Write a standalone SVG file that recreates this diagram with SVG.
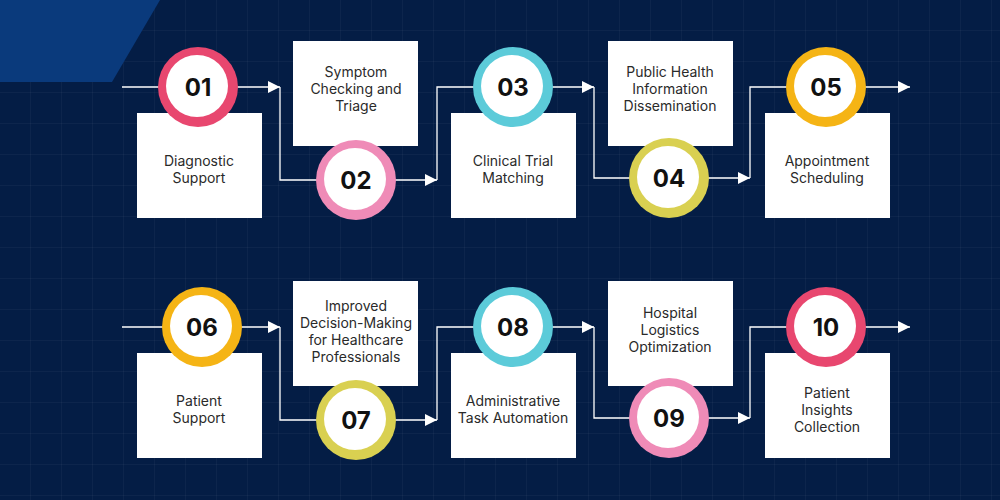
<svg xmlns="http://www.w3.org/2000/svg" width="1000" height="500" viewBox="0 0 1000 500">
<style>
.box{fill:#fff}
.t{font-family:Inter,"Liberation Sans",sans-serif;font-size:14px;fill:#2a2a2a;text-anchor:middle}
.n{font-family:Inter,"Liberation Sans",sans-serif;font-size:24px;font-weight:700;fill:#111;text-anchor:middle}
.ln{fill:none;stroke:#fff;stroke-width:1.3}
.in{fill:#fff}
</style>
<defs>
<pattern id="g" width="31" height="31" patternUnits="userSpaceOnUse"><path d="M31 0V31H0" fill="none" stroke="#ffffff" stroke-opacity="0.07"/></pattern>
<marker id="a" viewBox="0 0 10 10" refX="10" refY="5" markerWidth="16" markerHeight="12" markerUnits="userSpaceOnUse" orient="auto"><path d="M0 0L10 5L0 10Z" fill="#fff"/></marker>
</defs>
<rect width="1000" height="500" fill="#041d45"/>
<rect width="1000" height="500" fill="url(#g)"/>
<path d="M0 0H160L112 82H0Z" fill="#0a3a7c"/>
<g id="connectors">
<path class="ln" d="M122 87H280" marker-end="url(#a)"/>
<path class="ln" d="M280 87V180H437" marker-end="url(#a)"/>
<path class="ln" d="M437 180V87H594" marker-end="url(#a)"/>
<path class="ln" d="M594 87V178H750" marker-end="url(#a)"/>
<path class="ln" d="M750 178V87H910" marker-end="url(#a)"/>
<path class="ln" d="M122 327H280" marker-end="url(#a)"/>
<path class="ln" d="M280 327V420H437" marker-end="url(#a)"/>
<path class="ln" d="M437 420V327H594" marker-end="url(#a)"/>
<path class="ln" d="M594 327V418H750" marker-end="url(#a)"/>
<path class="ln" d="M750 418V327H910" marker-end="url(#a)"/>
</g>
<g id="b1"><rect class="box" x="137" y="113" width="125" height="105"/><text class="t" x="199" y="166">Diagnostic</text><text class="t" x="199" y="183">Support</text></g>
<g id="b2"><rect class="box" x="293" y="41" width="125" height="105"/><text class="t" x="356" y="77">Symptom</text><text class="t" x="356" y="94">Checking and</text><text class="t" x="356" y="111">Triage</text></g>
<g id="b3"><rect class="box" x="451" y="113" width="125" height="105"/><text class="t" x="513" y="166">Clinical Trial</text><text class="t" x="513" y="183">Matching</text></g>
<g id="b4"><rect class="box" x="608" y="41" width="125" height="105"/><text class="t" x="670" y="77">Public Health</text><text class="t" x="670" y="94">Information</text><text class="t" x="670" y="111">Dissemination</text></g>
<g id="b5"><rect class="box" x="765" y="113" width="125" height="105"/><text class="t" x="827" y="166">Appointment</text><text class="t" x="827" y="183">Scheduling</text></g>
<g id="b6"><rect class="box" x="137" y="353" width="125" height="105"/><text class="t" x="199" y="406">Patient</text><text class="t" x="199" y="423">Support</text></g>
<g id="b7"><rect class="box" x="293" y="281" width="125" height="105"/><text class="t" x="356" y="311">Improved</text><text class="t" x="356" y="328">Decision-Making</text><text class="t" x="356" y="345">for Healthcare</text><text class="t" x="356" y="362">Professionals</text></g>
<g id="b8"><rect class="box" x="451" y="353" width="125" height="105"/><text class="t" x="513" y="406">Administrative</text><text class="t" x="513" y="423">Task Automation</text></g>
<g id="b9"><rect class="box" x="608" y="281" width="125" height="105"/><text class="t" x="670" y="318">Hospital</text><text class="t" x="670" y="335">Logistics</text><text class="t" x="670" y="352">Optimization</text></g>
<g id="b10"><rect class="box" x="765" y="353" width="125" height="105"/><text class="t" x="827" y="398">Patient</text><text class="t" x="827" y="415">Insights</text><text class="t" x="827" y="432">Collection</text></g>
<g id="c1"><circle cx="198" cy="87" r="40" fill="#e8476f"/><circle class="in" cx="197" cy="86" r="31"/><text class="n" x="198" y="96">01</text></g>
<g id="c2"><circle cx="356" cy="180" r="40" fill="#ef8bb7"/><circle class="in" cx="355" cy="179" r="31"/><text class="n" x="356" y="189">02</text></g>
<g id="c3"><circle cx="513" cy="87" r="40" fill="#5ccbd9"/><circle class="in" cx="512" cy="86" r="31"/><text class="n" x="513" y="96">03</text></g>
<g id="c4"><circle cx="669" cy="178" r="40" fill="#d9d051"/><circle class="in" cx="668" cy="177" r="31"/><text class="n" x="669" y="187">04</text></g>
<g id="c5"><circle cx="826" cy="87" r="40" fill="#f5b415"/><circle class="in" cx="825" cy="86" r="31"/><text class="n" x="826" y="96">05</text></g>
<g id="c6"><circle cx="202" cy="327" r="40" fill="#f5b415"/><circle class="in" cx="201" cy="326" r="31"/><text class="n" x="202" y="336">06</text></g>
<g id="c7"><circle cx="356" cy="420" r="40" fill="#d9d051"/><circle class="in" cx="355" cy="419" r="31"/><text class="n" x="356" y="429">07</text></g>
<g id="c8"><circle cx="513" cy="327" r="40" fill="#5ccbd9"/><circle class="in" cx="512" cy="326" r="31"/><text class="n" x="513" y="336">08</text></g>
<g id="c9"><circle cx="669" cy="418" r="40" fill="#ef8bb7"/><circle class="in" cx="668" cy="417" r="31"/><text class="n" x="669" y="427">09</text></g>
<g id="c10"><circle cx="826" cy="327" r="40" fill="#e8476f"/><circle class="in" cx="825" cy="326" r="31"/><text class="n" x="826" y="336">10</text></g>
</svg>
